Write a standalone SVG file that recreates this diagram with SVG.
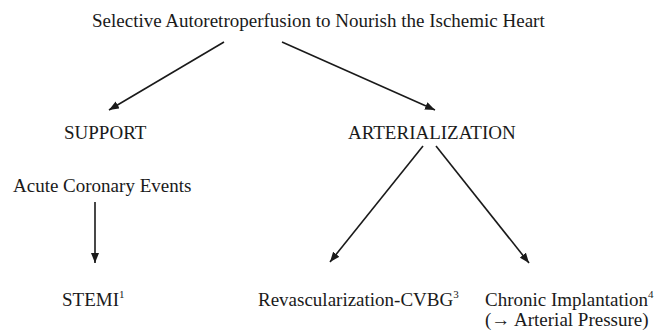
<svg xmlns="http://www.w3.org/2000/svg" width="665" height="335" viewBox="0 0 665 335">
<style>
text{font-family:"Liberation Serif","Times New Roman",serif;font-size:19px;fill:#1a1a1a}
.sup{font-size:11px}
.conn line{stroke:#1a1a1a;stroke-width:1.6;marker-end:url(#ah)}
</style>
<defs>
<marker id="ah" markerUnits="userSpaceOnUse" markerWidth="10" markerHeight="8" refX="10" refY="4" orient="auto" viewBox="0 0 10 8">
<path d="M0,0 L10,4 L0,8 z" fill="#1a1a1a"/>
</marker>
</defs>
<rect width="665" height="335" fill="#fff"/>
<g id="title"><text x="92" y="27">Selective Autoretroperfusion to Nourish the Ischemic Heart</text></g>
<g id="support"><text x="64" y="139">SUPPORT</text></g>
<g id="arterialization"><text x="348" y="139">ARTERIALIZATION</text></g>
<g id="acute"><text x="13" y="192">Acute Coronary Events</text></g>
<g id="stemi"><text x="62" y="306">STEMI<tspan class="sup" dy="-8">1</tspan></text></g>
<g id="revasc"><text x="258" y="306">Revascularization-CVBG<tspan class="sup" dy="-8">3</tspan></text></g>
<g id="chronic"><text x="485" y="306">Chronic Implantation<tspan class="sup" dy="-8">4</tspan></text><text x="485" y="326">(→ Arterial Pressure)</text></g>
<g id="connectors" class="conn">
<line x1="224" y1="42" x2="109" y2="110"/>
<line x1="282" y1="42" x2="435" y2="110"/>
<line x1="95" y1="202" x2="95" y2="263"/>
<line x1="423" y1="146" x2="330" y2="262"/>
<line x1="436" y1="146" x2="529" y2="263"/>
</g>
</svg>
